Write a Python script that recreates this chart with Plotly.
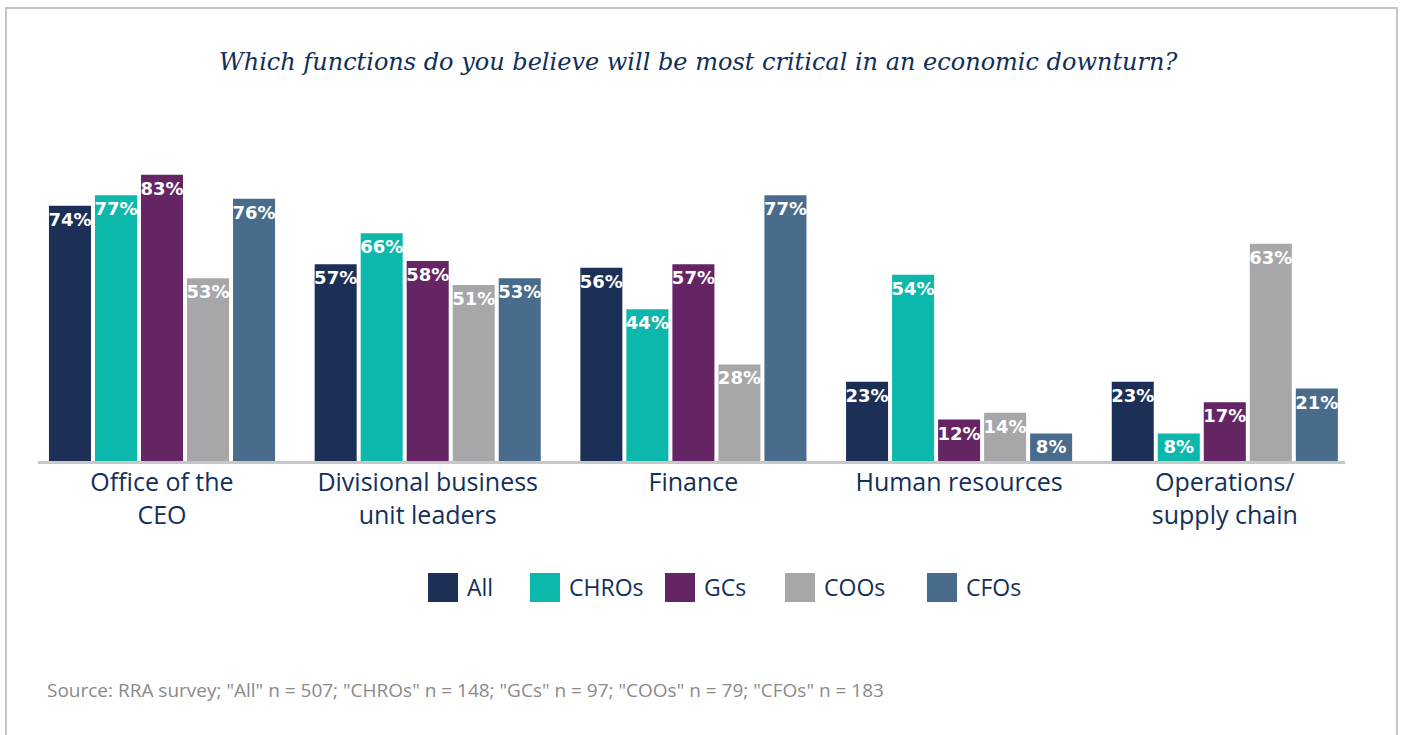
import plotly.graph_objects as go

categories = ["Office of the<br>CEO", "Divisional business<br>unit leaders", "Finance",
              "Human resources", "Operations/<br>supply chain"]
series_names = ["All", "CHROs", "GCs", "COOs", "CFOs"]
values_all = [74, 57, 56, 23, 23]
values_chros = [77, 66, 44, 54, 8]
values_gcs = [83, 58, 57, 12, 17]
values_coos = [53, 51, 28, 14, 63]
values_cfos = [76, 53, 77, 8, 21]
colors = ["#1b2f57", "#0cb8ac", "#652564", "#a7a7a9", "#4a6c8c"]

title_text = "Which functions do you believe will be most critical in an economic downturn?"
source_text = ('Source: RRA survey; "All" n = 507; "CHROs" n = 148; "GCs" n = 97; '
               '"COOs" n = 79; "CFOs" n = 183')

W, H = 1401, 735
L, R, T, B = 38, 1345, 150, 461  # plot area in pixels


def px(x):
    return (x - L) / (R - L)


def py(y):
    return (B - y) / (B - T)


series_values = [values_all, values_chros, values_gcs, values_coos, values_cfos]

fig = go.Figure()
for name, vals, col in zip(series_names, series_values, colors):
    fig.add_trace(go.Bar(
        x=categories, y=vals, name=name, marker=dict(color=col, line=dict(width=0)),
        text=[f"{v}%" for v in vals], textposition="inside", insidetextanchor="end",
        constraintext="none", textangle=0,
        textfont=dict(family="DejaVu Sans", size=18, color="white", weight="bold"),
        showlegend=False, hoverinfo="skip",
    ))

cat_w = (R - L) / 265.7

shapes = [
    dict(type="rect", xref="paper", yref="paper",
         x0=px(6), x1=px(1397), y0=py(8), y1=py(760),
         line=dict(color="#c6c6c6", width=2), fillcolor="rgba(0,0,0,0)", layer="below"),
]
annotations = [
    dict(text=f"<i>{title_text}</i>", x=px(698), y=py(62), xref="paper", yref="paper",
         showarrow=False, xanchor="center", yanchor="middle",
         font=dict(family="DejaVu Serif", size=24, color="#10305a")),
    dict(text=source_text, x=px(45), y=py(690), xref="paper", yref="paper",
         showarrow=False, xanchor="left", yanchor="middle",
         font=dict(family="Open Sans", size=19, color="#8a8a8a")),
]

legend_sq_x = [428, 530, 665, 785, 927]
for name, col, sx in zip(series_names, colors, legend_sq_x):
    shapes.append(dict(type="rect", xref="paper", yref="paper",
                       x0=px(sx), x1=px(sx + 30), y0=py(573), y1=py(602),
                       fillcolor=col, line=dict(width=0)))
    annotations.append(dict(text=name, x=px(sx + 37), y=py(587), xref="paper", yref="paper",
                            showarrow=False, xanchor="left", yanchor="middle",
                            font=dict(family="Open Sans", size=23, color="#12305a")))

fig.update_layout(
    width=W, height=H,
    margin=dict(l=L, r=W - R, t=T, b=H - B),
    paper_bgcolor="white", plot_bgcolor="white",
    barmode="group", bargap=0.134, bargroupgap=0.087,
    xaxis=dict(range=[-0.4667, -0.4667 + cat_w], showline=True, linecolor="#c8c8c8",
               linewidth=3, showgrid=False, zeroline=False, ticks="",
               ticklabelstandoff=-3,
               tickfont=dict(family="Open Sans", size=25, color="#12305a"), fixedrange=True),
    yaxis=dict(range=[0, (B - T) / 3.45], visible=False, fixedrange=True),
    shapes=shapes, annotations=annotations,
    showlegend=False,
)

fig.write_html("out.html")
